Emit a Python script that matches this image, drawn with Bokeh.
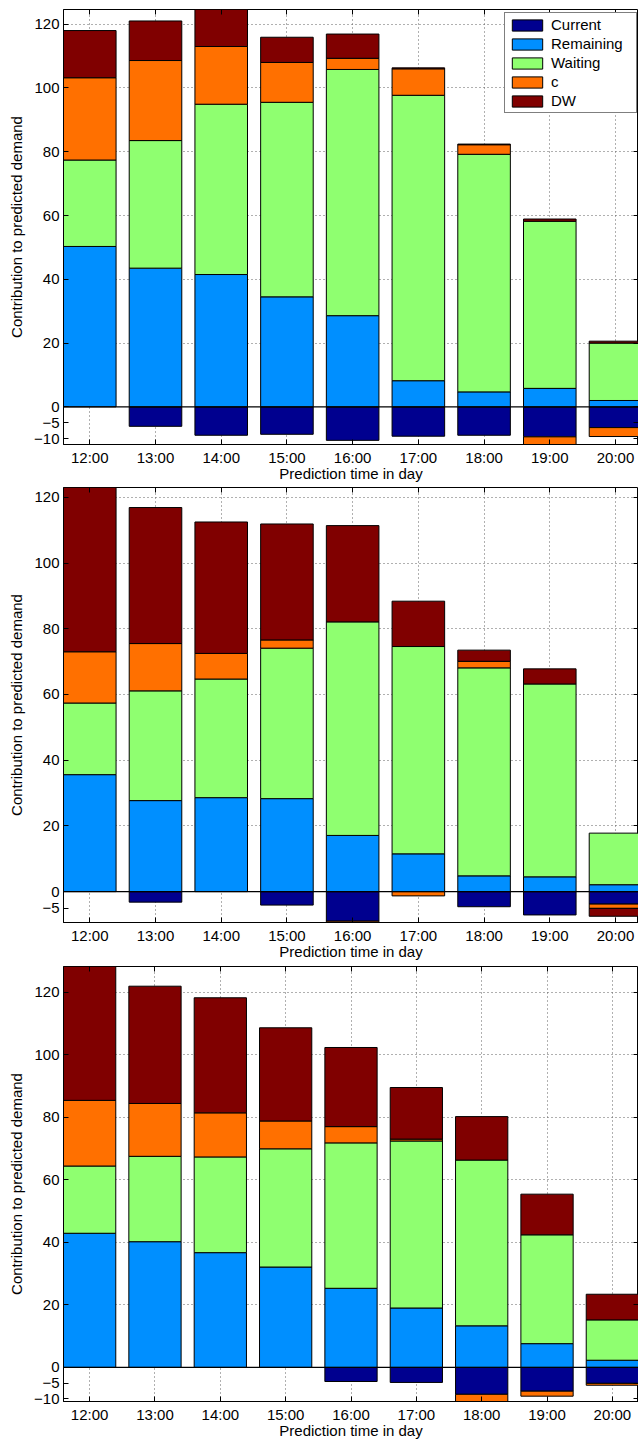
import numpy as np
from bokeh.plotting import figure
from bokeh.models import (Range1d, FixedTicker, LinearAxis, Span, ColumnDataSource,
                          Legend, LegendItem)
from bokeh.layouts import column
from bokeh.embed import file_html
from bokeh.resources import INLINE

hours = ["12:00", "13:00", "14:00", "15:00", "16:00", "17:00", "18:00", "19:00", "20:00"]
series_names = ["Current", "Remaining", "Waiting", "c", "DW"]
series_colors = ["#00008F", "#008FFF", "#8FFF70", "#FF7000", "#800000"]

# Panel 1
p1_current = [0, -6.1, -8.9, -8.6, -10.5, -9.2, -8.9, -9.4, -6.5]
p1_remaining = [50.3, 43.5, 41.5, 34.5, 28.6, 8.2, 4.7, 5.8, 2.0]
p1_waiting = [27.1, 40.0, 53.4, 61.0, 77.2, 89.5, 74.5, 52.4, 18.0]
p1_c = [25.8, 25.1, 18.1, 12.5, 3.5, 8.3, 3.0, -3.0, -2.8]
p1_dw = [14.8, 12.4, 14.0, 7.9, 7.6, 0.3, 0.2, 0.7, 0.6]

# Panel 2
p2_current = [0, -3.2, 0, -4.1, -9.0, 0, -4.6, -7.1, -3.8]
p2_remaining = [35.6, 27.7, 28.6, 28.3, 17.1, 11.5, 4.8, 4.5, 2.1]
p2_waiting = [21.8, 33.4, 36.1, 45.8, 65.0, 63.1, 63.3, 58.7, 15.7]
p2_c = [15.6, 14.4, 7.8, 2.5, -1.0, -1.3, 2.0, 0, -1.3]
p2_dw = [52.0, 41.4, 40.0, 35.3, 29.3, 13.8, 3.4, 4.6, -2.4]

# Panel 3
p3_current = [0, 0, 0, 0, -4.5, -4.8, -8.6, -7.6, -5.1]
p3_remaining = [42.9, 40.2, 36.7, 32.1, 25.3, 19.0, 13.3, 7.6, 2.3]
p3_waiting = [21.5, 27.3, 30.6, 37.8, 46.5, 53.4, 53.0, 34.8, 12.9]
p3_c = [21.0, 16.9, 14.1, 8.9, 5.2, 0.6, -2.5, -1.6, -0.6]
p3_dw = [45.0, 37.5, 36.8, 29.8, 25.3, 16.5, 13.9, 13.0, 8.2]

yticks_a = [-10, -5, 0, 20, 40, 60, 80, 100, 120]
yticks_b = [-5, 0, 20, 40, 60, 80, 100, 120]
grid_ticks = [20, 40, 60, 80, 100, 120]

FONT = "Liberation Sans"
FS = "15px"


def make_panel(data, y_lo, y_hi, height, b_top, b_left, x_end, yticks, legend):
    xs = list(range(1, len(hours) + 1))
    p = figure(width=638, height=height, x_range=Range1d(0.6, x_end),
               y_range=Range1d(y_lo, y_hi), output_backend="svg",
               toolbar_location=None, min_border_left=b_left, min_border_right=0,
               min_border_top=b_top, min_border_bottom=39)
    p.background_fill_color = "white"
    p.border_fill_color = "white"
    p.outline_line_color = "black"
    p.outline_line_width = 1

    pos = np.zeros(len(hours))
    neg = np.zeros(len(hours))
    items = []
    for name, vals, color in zip(series_names, data, series_colors):
        bx, bb, bt = [], [], []
        for i, v in enumerate(vals):
            if v > 0:
                bx.append(xs[i]); bb.append(pos[i]); bt.append(pos[i] + v)
                pos[i] += v
            elif v < 0:
                bx.append(xs[i]); bt.append(neg[i]); bb.append(neg[i] + v)
                neg[i] += v
        src = ColumnDataSource(dict(x=bx, bottom=bb, top=bt))
        r = p.vbar(x="x", width=0.8, bottom="bottom", top="top", source=src,
                   fill_color=color, line_color="black", line_width=1)
        items.append(LegendItem(label=name, renderers=[r]))

    p.add_layout(Span(location=0, dimension="width", line_color="black", line_width=1.2))

    # axes
    p.xaxis.ticker = FixedTicker(ticks=xs)
    p.xaxis.major_label_overrides = {x: h for x, h in zip(xs, hours)}
    p.yaxis.ticker = FixedTicker(ticks=yticks)
    p.yaxis.major_label_overrides = {t: (str(t).replace("-", "\u2212")) for t in yticks}
    for ax in (p.xaxis[0], p.yaxis[0]):
        ax.major_tick_in = 5
        ax.major_tick_out = 0
        ax.minor_tick_line_color = None
        ax.axis_line_color = "black"
        ax.major_tick_line_color = "black"
        ax.major_label_text_font = FONT
        ax.major_label_text_font_size = FS
        ax.major_label_text_color = "black"
        ax.axis_label_text_font = FONT
        ax.axis_label_text_font_size = FS
        ax.axis_label_text_font_style = "normal"
        ax.axis_label_text_color = "black"
        ax.major_label_standoff = 4
    p.xaxis.axis_label = "Prediction time in day"
    p.xaxis.axis_label_standoff = -4
    p.yaxis.axis_label = "Contribution to predicted demand"
    p.yaxis.axis_label_standoff = 6

    top_ax = LinearAxis(ticker=FixedTicker(ticks=xs), major_label_text_font_size="1px",
                        major_label_text_color=None,
                        major_tick_in=5, major_tick_out=0, minor_tick_line_color=None,
                        axis_line_color=None, major_label_standoff=0)
    p.add_layout(top_ax, "above")
    right_ax = LinearAxis(ticker=FixedTicker(ticks=yticks), major_label_text_font_size="1px",
                          major_label_text_color=None,
                          major_tick_in=5, major_tick_out=0, minor_tick_line_color=None,
                          axis_line_color=None, major_label_standoff=0)
    p.add_layout(right_ax, "right")

    p.xgrid.ticker = FixedTicker(ticks=xs)
    p.ygrid.ticker = FixedTicker(ticks=grid_ticks)
    for g in (p.xgrid[0], p.ygrid[0]):
        g.grid_line_color = "#606060"
        g.grid_line_dash = "1 3"
        g.grid_line_width = 1

    if legend:
        lg = Legend(items=items, location=(441, 331))
        lg.label_text_font = FONT
        lg.label_text_font_size = FS
        lg.label_text_color = "black"
        lg.glyph_width = 38
        lg.glyph_height = 14
        lg.label_height = 14
        lg.label_width = 82
        lg.spacing = 2
        lg.padding = 3
        lg.margin = 0
        lg.label_standoff = 5
        lg.border_line_color = "black"
        lg.border_line_width = 1
        lg.background_fill_color = "white"
        lg.background_fill_alpha = 1
        p.add_layout(lg)
    return p


f1 = make_panel([p1_current, p1_remaining, p1_waiting, p1_c, p1_dw], -11.8, 124.6,
                484, 9, 63, 9.35, yticks_a, True)
f2 = make_panel([p2_current, p2_remaining, p2_waiting, p2_c, p2_dw], -9.4, 123.0,
                478, 3, 63, 9.35, yticks_b, False)
f3 = make_panel([p3_current, p3_remaining, p3_waiting, p3_c, p3_dw], -10.9, 128.2,
                479, 4, 60, 9.40, yticks_a, False)

layout = column(f1, f2, f3, spacing=0)
open("out.html", "w").write(file_html(layout, INLINE))
